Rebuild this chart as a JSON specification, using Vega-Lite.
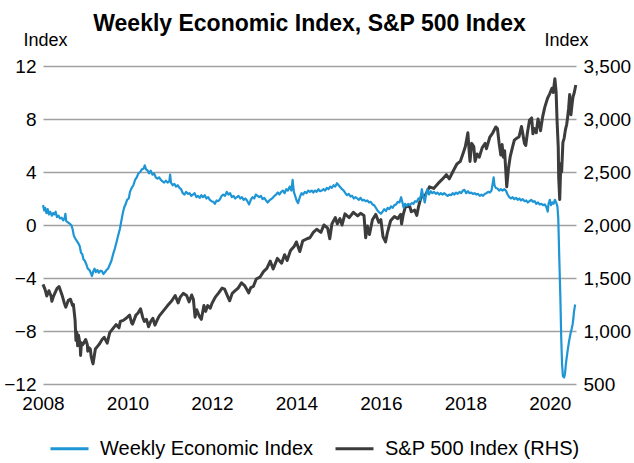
{
"$schema":"https://vega.github.io/schema/vega-lite/v6.json",
"width":533,"height":318,"autosize":"none",
"padding":{"left":43,"top":66,"right":58,"bottom":79},
"background":"white",
"config":{"view":{"stroke":null},"font":"Liberation Sans"},
"title":{"text":"Weekly Economic Index, S&P 500 Index","fontSize":23,"fontWeight":"bold","font":"Liberation Sans","color":"#000000","anchor":"middle","frame":"group","baseline":"alphabetic","offset":-23},
"datasets":{
"wei":[
{"t":2008.00,"w":1.5},{"t":2008.03,"w":1.1},{"t":2008.05,"w":1.3},{"t":2008.08,"w":0.9},{"t":2008.11,"w":1.2},{"t":2008.14,"w":0.8},{"t":2008.17,"w":1.0},{"t":2008.21,"w":0.7},{"t":2008.24,"w":0.9},{"t":2008.27,"w":0.8},{"t":2008.30,"w":1.0},{"t":2008.33,"w":0.6},{"t":2008.37,"w":0.7},{"t":2008.40,"w":0.5},{"t":2008.44,"w":0.55},{"t":2008.48,"w":0.35},{"t":2008.51,"w":0.5},{"t":2008.53,"w":0.85},{"t":2008.55,"w":0.3},{"t":2008.59,"w":0.2},{"t":2008.63,"w":0.1},{"t":2008.67,"w":0.0},{"t":2008.70,"w":-0.3},{"t":2008.73,"w":-0.8},{"t":2008.76,"w":-1.0},{"t":2008.80,"w":-1.2},{"t":2008.84,"w":-1.4},{"t":2008.87,"w":-1.6},{"t":2008.90,"w":-2.1},{"t":2008.93,"w":-2.2},{"t":2008.96,"w":-2.6},{"t":2008.99,"w":-2.7},
{"t":2009.03,"w":-3.0},{"t":2009.06,"w":-3.3},{"t":2009.10,"w":-3.4},{"t":2009.13,"w":-3.6},{"t":2009.16,"w":-3.85},{"t":2009.19,"w":-3.5},{"t":2009.22,"w":-3.3},{"t":2009.25,"w":-3.55},{"t":2009.29,"w":-3.4},{"t":2009.32,"w":-3.6},{"t":2009.36,"w":-3.45},{"t":2009.40,"w":-3.5},{"t":2009.43,"w":-3.7},{"t":2009.47,"w":-3.55},{"t":2009.50,"w":-3.4},{"t":2009.54,"w":-3.3},{"t":2009.58,"w":-3.0},{"t":2009.62,"w":-2.7},{"t":2009.66,"w":-2.2},{"t":2009.70,"w":-1.8},{"t":2009.74,"w":-1.3},{"t":2009.78,"w":-0.8},{"t":2009.82,"w":-0.3},{"t":2009.86,"w":0.4},{"t":2009.89,"w":0.9},{"t":2009.92,"w":1.3},{"t":2009.96,"w":1.6},{"t":2009.99,"w":1.9},
{"t":2010.03,"w":2.0},{"t":2010.06,"w":2.5},{"t":2010.10,"w":2.8},{"t":2010.14,"w":3.0},{"t":2010.18,"w":3.4},{"t":2010.22,"w":3.6},{"t":2010.26,"w":3.9},{"t":2010.30,"w":4.0},{"t":2010.34,"w":4.2},{"t":2010.38,"w":4.25},{"t":2010.41,"w":4.5},{"t":2010.44,"w":4.2},{"t":2010.48,"w":4.1},{"t":2010.51,"w":3.9},{"t":2010.55,"w":4.1},{"t":2010.59,"w":3.8},{"t":2010.63,"w":3.9},{"t":2010.67,"w":3.6},{"t":2010.71,"w":3.5},{"t":2010.75,"w":3.6},{"t":2010.79,"w":3.4},{"t":2010.83,"w":3.3},{"t":2010.87,"w":3.2},{"t":2010.91,"w":3.35},{"t":2010.95,"w":3.2},{"t":2010.99,"w":3.3},
{"t":2011.01,"w":3.8},{"t":2011.03,"w":3.2},{"t":2011.07,"w":3.0},{"t":2011.11,"w":3.1},{"t":2011.15,"w":2.9},{"t":2011.19,"w":3.0},{"t":2011.23,"w":2.8},{"t":2011.27,"w":2.7},{"t":2011.31,"w":2.4},{"t":2011.35,"w":2.3},{"t":2011.39,"w":2.5},{"t":2011.43,"w":2.35},{"t":2011.47,"w":2.4},{"t":2011.51,"w":2.2},{"t":2011.55,"w":2.3},{"t":2011.59,"w":2.4},{"t":2011.63,"w":2.1},{"t":2011.67,"w":2.2},{"t":2011.71,"w":2.05},{"t":2011.75,"w":2.25},{"t":2011.79,"w":2.1},{"t":2011.83,"w":2.25},{"t":2011.87,"w":2.0},{"t":2011.91,"w":2.1},{"t":2011.95,"w":1.9},{"t":2011.99,"w":1.8},
{"t":2012.03,"w":1.75},{"t":2012.07,"w":1.6},{"t":2012.11,"w":1.85},{"t":2012.15,"w":1.8},{"t":2012.19,"w":1.95},{"t":2012.23,"w":2.2},{"t":2012.27,"w":2.3},{"t":2012.31,"w":2.2},{"t":2012.35,"w":2.5},{"t":2012.39,"w":2.3},{"t":2012.43,"w":2.4},{"t":2012.47,"w":2.1},{"t":2012.51,"w":2.2},{"t":2012.55,"w":2.0},{"t":2012.59,"w":2.1},{"t":2012.63,"w":2.2},{"t":2012.67,"w":2.0},{"t":2012.71,"w":2.1},{"t":2012.75,"w":1.9},{"t":2012.79,"w":2.0},{"t":2012.83,"w":1.85},{"t":2012.88,"w":1.55},{"t":2012.92,"w":1.9},{"t":2012.96,"w":2.1},
{"t":2013.00,"w":2.0},{"t":2013.04,"w":2.3},{"t":2013.08,"w":2.2},{"t":2013.12,"w":2.1},{"t":2013.16,"w":2.2},{"t":2013.20,"w":1.95},{"t":2013.24,"w":2.05},{"t":2013.28,"w":1.85},{"t":2013.32,"w":1.7},{"t":2013.36,"w":1.85},{"t":2013.40,"w":1.95},{"t":2013.44,"w":2.05},{"t":2013.48,"w":2.2},{"t":2013.52,"w":2.3},{"t":2013.56,"w":2.45},{"t":2013.60,"w":2.3},{"t":2013.64,"w":2.5},{"t":2013.68,"w":2.6},{"t":2013.72,"w":2.4},{"t":2013.76,"w":2.7},{"t":2013.80,"w":2.6},{"t":2013.84,"w":2.9},{"t":2013.88,"w":2.6},{"t":2013.91,"w":3.4},{"t":2013.94,"w":2.5},{"t":2013.97,"w":2.2},
{"t":2014.01,"w":1.8},{"t":2014.04,"w":1.65},{"t":2014.08,"w":2.1},{"t":2014.12,"w":2.4},{"t":2014.16,"w":2.3},{"t":2014.20,"w":2.5},{"t":2014.24,"w":2.4},{"t":2014.28,"w":2.6},{"t":2014.32,"w":2.5},{"t":2014.36,"w":2.6},{"t":2014.40,"w":2.45},{"t":2014.44,"w":2.6},{"t":2014.48,"w":2.5},{"t":2014.52,"w":2.7},{"t":2014.56,"w":2.55},{"t":2014.60,"w":2.6},{"t":2014.64,"w":2.7},{"t":2014.68,"w":2.6},{"t":2014.72,"w":2.8},{"t":2014.76,"w":2.7},{"t":2014.80,"w":2.9},{"t":2014.84,"w":2.8},{"t":2014.88,"w":3.0},{"t":2014.92,"w":2.9},{"t":2014.96,"w":3.15},
{"t":2015.00,"w":3.0},{"t":2015.04,"w":2.85},{"t":2015.08,"w":2.7},{"t":2015.12,"w":2.6},{"t":2015.16,"w":2.4},{"t":2015.20,"w":2.25},{"t":2015.24,"w":2.35},{"t":2015.28,"w":2.15},{"t":2015.32,"w":2.2},{"t":2015.36,"w":2.0},{"t":2015.40,"w":2.1},{"t":2015.44,"w":2.0},{"t":2015.48,"w":1.9},{"t":2015.52,"w":2.05},{"t":2015.56,"w":1.85},{"t":2015.60,"w":1.9},{"t":2015.64,"w":1.8},{"t":2015.68,"w":1.85},{"t":2015.72,"w":1.7},{"t":2015.76,"w":1.75},{"t":2015.80,"w":1.55},{"t":2015.84,"w":1.5},{"t":2015.88,"w":1.3},{"t":2015.92,"w":1.1},{"t":2015.96,"w":0.95},
{"t":2016.00,"w":0.85},{"t":2016.04,"w":1.0},{"t":2016.08,"w":1.2},{"t":2016.12,"w":1.05},{"t":2016.16,"w":1.3},{"t":2016.20,"w":1.2},{"t":2016.24,"w":1.4},{"t":2016.28,"w":1.3},{"t":2016.32,"w":1.5},{"t":2016.36,"w":1.55},{"t":2016.40,"w":1.75},{"t":2016.44,"w":1.7},{"t":2016.48,"w":2.1},{"t":2016.51,"w":1.7},{"t":2016.54,"w":1.3},{"t":2016.57,"w":1.6},{"t":2016.61,"w":1.45},{"t":2016.65,"w":1.6},{"t":2016.69,"w":1.5},{"t":2016.73,"w":1.65},{"t":2016.77,"w":1.6},{"t":2016.81,"w":1.8},{"t":2016.85,"w":1.75},{"t":2016.89,"w":2.0},{"t":2016.93,"w":1.9},{"t":2016.97,"w":2.7},
{"t":2017.00,"w":2.2},{"t":2017.04,"w":1.7},{"t":2017.07,"w":2.3},{"t":2017.10,"w":2.7},{"t":2017.14,"w":2.3},{"t":2017.18,"w":2.55},{"t":2017.22,"w":2.4},{"t":2017.26,"w":2.5},{"t":2017.30,"w":2.35},{"t":2017.34,"w":2.45},{"t":2017.38,"w":2.3},{"t":2017.42,"w":2.4},{"t":2017.46,"w":2.3},{"t":2017.50,"w":2.4},{"t":2017.54,"w":2.3},{"t":2017.58,"w":2.2},{"t":2017.62,"w":2.3},{"t":2017.66,"w":2.25},{"t":2017.70,"w":2.4},{"t":2017.74,"w":2.3},{"t":2017.78,"w":2.45},{"t":2017.82,"w":2.35},{"t":2017.86,"w":2.5},{"t":2017.90,"w":2.4},{"t":2017.94,"w":2.6},{"t":2017.98,"w":2.65},
{"t":2018.02,"w":2.4},{"t":2018.06,"w":2.55},{"t":2018.10,"w":2.4},{"t":2018.14,"w":2.45},{"t":2018.18,"w":2.35},{"t":2018.22,"w":2.4},{"t":2018.26,"w":2.3},{"t":2018.30,"w":2.35},{"t":2018.34,"w":2.2},{"t":2018.38,"w":2.3},{"t":2018.42,"w":2.2},{"t":2018.46,"w":2.35},{"t":2018.50,"w":2.4},{"t":2018.54,"w":2.5},{"t":2018.58,"w":2.45},{"t":2018.62,"w":2.6},{"t":2018.65,"w":3.2},{"t":2018.67,"w":3.6},{"t":2018.69,"w":3.0},{"t":2018.72,"w":2.8},{"t":2018.76,"w":2.75},{"t":2018.80,"w":2.6},{"t":2018.84,"w":2.7},{"t":2018.88,"w":2.6},{"t":2018.92,"w":2.7},{"t":2018.96,"w":2.6},
{"t":2019.00,"w":2.3},{"t":2019.04,"w":2.1},{"t":2019.08,"w":2.0},{"t":2019.12,"w":2.1},{"t":2019.16,"w":1.95},{"t":2019.20,"w":2.05},{"t":2019.24,"w":1.9},{"t":2019.28,"w":2.0},{"t":2019.32,"w":1.85},{"t":2019.36,"w":1.95},{"t":2019.40,"w":1.8},{"t":2019.44,"w":1.85},{"t":2019.48,"w":1.7},{"t":2019.52,"w":1.8},{"t":2019.56,"w":1.9},{"t":2019.60,"w":1.75},{"t":2019.64,"w":1.8},{"t":2019.68,"w":1.6},{"t":2019.72,"w":1.7},{"t":2019.76,"w":1.55},{"t":2019.80,"w":1.6},{"t":2019.84,"w":1.5},{"t":2019.88,"w":1.55},{"t":2019.92,"w":1.35},{"t":2019.95,"w":1.0},{"t":2019.97,"w":1.6},
{"t":2020.00,"w":1.9},{"t":2020.03,"w":1.5},{"t":2020.06,"w":1.7},{"t":2020.09,"w":1.6},{"t":2020.12,"w":1.9},{"t":2020.15,"w":1.7},{"t":2020.18,"w":1.4},{"t":2020.20,"w":0.5},{"t":2020.22,"w":-2.0},{"t":2020.25,"w":-5.5},{"t":2020.27,"w":-8.5},{"t":2020.29,"w":-10.5},{"t":2020.31,"w":-11.4},{"t":2020.34,"w":-11.5},{"t":2020.36,"w":-11.2},{"t":2020.38,"w":-10.5},{"t":2020.40,"w":-10.0},{"t":2020.43,"w":-9.3},{"t":2020.46,"w":-8.7},{"t":2020.49,"w":-8.2},{"t":2020.52,"w":-7.8},{"t":2020.54,"w":-7.5},{"t":2020.56,"w":-7.0},{"t":2020.57,"w":-6.6},{"t":2020.59,"w":-6.2},{"t":2020.60,"w":-6.0}
],
"spx":[
{"t":2008.00,"s":1440},{"t":2008.05,"s":1390},{"t":2008.09,"s":1330},{"t":2008.14,"s":1380},{"t":2008.19,"s":1330},{"t":2008.21,"s":1280},{"t":2008.25,"s":1330},{"t":2008.33,"s":1400},{"t":2008.38,"s":1420},{"t":2008.45,"s":1340},{"t":2008.50,"s":1270},{"t":2008.54,"s":1225},{"t":2008.60,"s":1290},{"t":2008.65,"s":1300},{"t":2008.70,"s":1240},{"t":2008.72,"s":1250},{"t":2008.76,"s":1100},{"t":2008.78,"s":910},{"t":2008.80,"s":990},{"t":2008.82,"s":860},{"t":2008.84,"s":960},{"t":2008.88,"s":870},{"t":2008.89,"s":770},{"t":2008.91,"s":890},{"t":2008.94,"s":870},{"t":2008.97,"s":890},
{"t":2009.01,"s":920},{"t":2009.05,"s":870},{"t":2009.06,"s":810},{"t":2009.08,"s":845},{"t":2009.12,"s":830},{"t":2009.14,"s":760},{"t":2009.17,"s":710},{"t":2009.185,"s":690},{"t":2009.22,"s":780},{"t":2009.24,"s":830},{"t":2009.30,"s":860},{"t":2009.34,"s":880},{"t":2009.40,"s":920},{"t":2009.45,"s":940},{"t":2009.52,"s":885},{"t":2009.58,"s":985},{"t":2009.65,"s":1020},{"t":2009.73,"s":1060},{"t":2009.80,"s":1030},{"t":2009.83,"s":1090},{"t":2009.90,"s":1100},{"t":2009.97,"s":1120},
{"t":2010.05,"s":1150},{"t":2010.10,"s":1075},{"t":2010.12,"s":1065},{"t":2010.20,"s":1150},{"t":2010.25,"s":1170},{"t":2010.31,"s":1210},{"t":2010.36,"s":1130},{"t":2010.40,"s":1090},{"t":2010.45,"s":1110},{"t":2010.50,"s":1040},{"t":2010.55,"s":1090},{"t":2010.60,"s":1120},{"t":2010.65,"s":1055},{"t":2010.70,"s":1100},{"t":2010.75,"s":1140},{"t":2010.85,"s":1190},{"t":2010.95,"s":1240},
{"t":2011.05,"s":1285},{"t":2011.13,"s":1335},{"t":2011.20,"s":1265},{"t":2011.25,"s":1320},{"t":2011.32,"s":1355},{"t":2011.40,"s":1335},{"t":2011.46,"s":1275},{"t":2011.52,"s":1340},{"t":2011.56,"s":1300},{"t":2011.60,"s":1130},{"t":2011.64,"s":1200},{"t":2011.70,"s":1140},{"t":2011.75,"s":1110},{"t":2011.81,"s":1240},{"t":2011.85,"s":1185},{"t":2011.90,"s":1240},{"t":2011.96,"s":1215},
{"t":2012.00,"s":1260},{"t":2012.08,"s":1320},{"t":2012.16,"s":1360},{"t":2012.24,"s":1405},{"t":2012.30,"s":1395},{"t":2012.38,"s":1320},{"t":2012.42,"s":1285},{"t":2012.48,"s":1355},{"t":2012.55,"s":1380},{"t":2012.62,"s":1405},{"t":2012.70,"s":1455},{"t":2012.78,"s":1425},{"t":2012.87,"s":1360},{"t":2012.92,"s":1410},{"t":2012.98,"s":1420},
{"t":2013.05,"s":1490},{"t":2013.14,"s":1510},{"t":2013.22,"s":1560},{"t":2013.30,"s":1590},{"t":2013.38,"s":1660},{"t":2013.45,"s":1585},{"t":2013.55,"s":1685},{"t":2013.65,"s":1640},{"t":2013.72,"s":1720},{"t":2013.78,"s":1665},{"t":2013.86,"s":1760},{"t":2013.95,"s":1800},
{"t":2014.00,"s":1840},{"t":2014.08,"s":1750},{"t":2014.15,"s":1850},{"t":2014.25,"s":1870},{"t":2014.32,"s":1880},{"t":2014.40,"s":1930},{"t":2014.48,"s":1960},{"t":2014.58,"s":1930},{"t":2014.65,"s":2000},{"t":2014.74,"s":1970},{"t":2014.79,"s":1870},{"t":2014.84,"s":2010},{"t":2014.92,"s":2070},{"t":2014.97,"s":2010},
{"t":2015.03,"s":2060},{"t":2015.08,"s":2000},{"t":2015.15,"s":2105},{"t":2015.25,"s":2070},{"t":2015.35,"s":2120},{"t":2015.45,"s":2085},{"t":2015.52,"s":2110},{"t":2015.60,"s":2090},{"t":2015.64,"s":1880},{"t":2015.68,"s":1990},{"t":2015.73,"s":1910},{"t":2015.80,"s":2050},{"t":2015.88,"s":2100},{"t":2015.95,"s":2025},
{"t":2016.00,"s":2050},{"t":2016.05,"s":1890},{"t":2016.11,"s":1840},{"t":2016.15,"s":1920},{"t":2016.23,"s":2040},{"t":2016.32,"s":2080},{"t":2016.40,"s":2060},{"t":2016.47,"s":2100},{"t":2016.49,"s":2010},{"t":2016.53,"s":2100},{"t":2016.58,"s":2170},{"t":2016.68,"s":2180},{"t":2016.72,"s":2125},{"t":2016.80,"s":2140},{"t":2016.85,"s":2090},{"t":2016.89,"s":2170},{"t":2016.95,"s":2260},
{"t":2017.05,"s":2280},{"t":2017.15,"s":2360},{"t":2017.25,"s":2345},{"t":2017.35,"s":2390},{"t":2017.45,"s":2430},{"t":2017.55,"s":2475},{"t":2017.62,"s":2435},{"t":2017.70,"s":2500},{"t":2017.80,"s":2575},{"t":2017.88,"s":2600},{"t":2017.95,"s":2680},
{"t":2018.00,"s":2740},{"t":2018.06,"s":2870},{"t":2018.09,"s":2700},{"t":2018.11,"s":2600},{"t":2018.15,"s":2770},{"t":2018.20,"s":2740},{"t":2018.23,"s":2600},{"t":2018.28,"s":2670},{"t":2018.33,"s":2640},{"t":2018.40,"s":2730},{"t":2018.47,"s":2770},{"t":2018.50,"s":2720},{"t":2018.58,"s":2830},{"t":2018.65,"s":2870},{"t":2018.72,"s":2925},{"t":2018.76,"s":2910},{"t":2018.80,"s":2770},{"t":2018.84,"s":2660},{"t":2018.87,"s":2760},{"t":2018.90,"s":2640},{"t":2018.93,"s":2700},{"t":2018.95,"s":2560},{"t":2018.98,"s":2360},
{"t":2019.02,"s":2530},{"t":2019.06,"s":2640},{"t":2019.12,"s":2740},{"t":2019.16,"s":2800},{"t":2019.22,"s":2820},{"t":2019.27,"s":2830},{"t":2019.33,"s":2930},{"t":2019.40,"s":2770},{"t":2019.43,"s":2750},{"t":2019.47,"s":2870},{"t":2019.52,"s":2990},{"t":2019.57,"s":3010},{"t":2019.60,"s":2860},{"t":2019.63,"s":2910},{"t":2019.68,"s":2870},{"t":2019.72,"s":3000},{"t":2019.76,"s":2940},{"t":2019.78,"s":2890},{"t":2019.83,"s":3020},{"t":2019.88,"s":3110},{"t":2019.95,"s":3200},
{"t":2020.00,"s":3240},{"t":2020.05,"s":3290},{"t":2020.08,"s":3250},{"t":2020.12,"s":3380},{"t":2020.15,"s":3250},{"t":2020.17,"s":3000},{"t":2020.20,"s":2730},{"t":2020.21,"s":2450},{"t":2020.235,"s":2240},{"t":2020.26,"s":2580},{"t":2020.28,"s":2500},{"t":2020.31,"s":2780},{"t":2020.34,"s":2820},{"t":2020.37,"s":2900},{"t":2020.40,"s":2950},{"t":2020.42,"s":3010},{"t":2020.445,"s":3100},{"t":2020.47,"s":3230},{"t":2020.50,"s":3040},{"t":2020.53,"s":3150},{"t":2020.55,"s":3210},{"t":2020.58,"s":3250},{"t":2020.615,"s":3320}
]},
"layer":[
{"data":{"name":"spx"},
 "mark":{"type":"line","strokeWidth":3,"strokeJoin":"round"},
 "encoding":{
  "x":{"field":"t","type":"quantitative","scale":{"domain":[2008,2020.62],"nice":false,"zero":false},
       "axis":{"values":[2008,2010,2012,2014,2016,2018,2020],"format":"d","grid":false,"domain":false,"ticks":false,"labelFontSize":19,"labelColor":"#000000","labelPadding":10,"labelFlush":false,"labelOverlap":false,"labelBound":false,"title":null}},
  "y":{"field":"s","type":"quantitative","scale":{"domain":[500,3500],"nice":false,"zero":false},
       "axis":{"orient":"right","values":[500,1000,1500,2000,2500,3000,3500],"format":",d","grid":false,"domain":false,"ticks":false,"labelFontSize":19,"labelColor":"#000000","labelPadding":7,"title":"Index","titleAngle":0,"titleFontSize":18,"titleFontWeight":"normal","titleColor":"#000000","titleAlign":"center","titleBaseline":"alphabetic","titleX":-10,"titleY":-21}},
  "color":{"datum":"S&P 500 Index (RHS)","type":"nominal"}
 }},
{"data":{"name":"wei"},
 "mark":{"type":"line","strokeWidth":2.2,"strokeJoin":"round"},
 "encoding":{
  "x":{"field":"t","type":"quantitative"},
  "y":{"field":"w","type":"quantitative","scale":{"domain":[-12,12],"nice":false,"zero":false},
       "axis":{"orient":"left","values":[-12,-8,-4,0,4,8,12],"grid":true,"gridColor":"#A0A0A0","gridWidth":1.3,"domain":false,"ticks":false,"labelFontSize":19,"labelColor":"#000000","labelPadding":7,"title":"Index","titleAngle":0,"titleFontSize":18,"titleFontWeight":"normal","titleColor":"#000000","titleAlign":"center","titleBaseline":"alphabetic","titleX":2,"titleY":-21}},
  "color":{"datum":"Weekly Economic Index","type":"nominal",
     "scale":{"domain":["Weekly Economic Index","S&P 500 Index (RHS)"],"range":["#1E96D6","#3C3C3C"]},
     "legend":{"orient":"none","legendX":6,"legendY":362,"direction":"horizontal","title":null,"symbolType":"stroke","symbolSize":1444,"symbolStrokeWidth":3,"labelFontSize":20,"labelLimit":400,"labelColor":"#000000","labelOffset":10,"columnPadding":15,"padding":0}}
 }}
],
"resolve":{"scale":{"y":"independent"}}
}
